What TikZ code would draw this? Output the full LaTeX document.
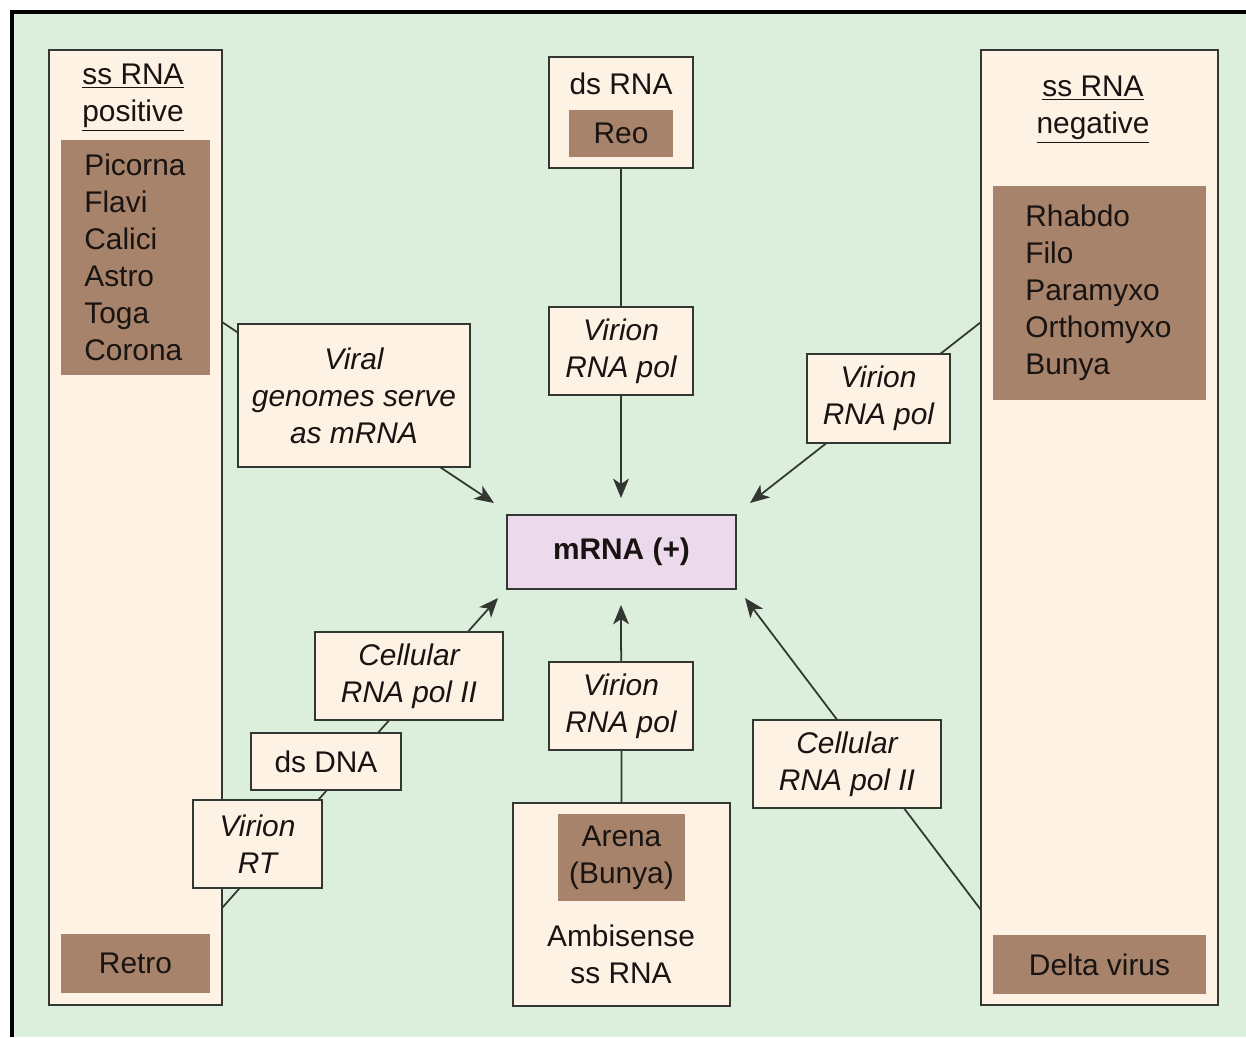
\documentclass[tikz,border=0pt]{standalone}
\usepackage{fontspec}
\setmainfont{Liberation Sans}
\usetikzlibrary{fit,arrows.meta}
\pgfdeclarelayer{back}
\pgfdeclarelayer{links}
\pgfsetlayers{back,links,main}
\definecolor{paper}{RGB}{220,238,220}
\definecolor{cream}{RGB}{253,242,228}
\definecolor{clay}{RGB}{166,131,106}
\definecolor{lilac}{RGB}{236,218,236}
\definecolor{edge}{RGB}{50,55,50}
\definecolor{ink}{RGB}{25,20,18}
\newcommand{\lblfont}{\fontsize{17}{21}\selectfont}

\begin{document}
\begin{tikzpicture}[x=0.02cm,y=-0.02cm,
  wh/.style 2 args={minimum width=#1*0.02cm,minimum height=#2*0.02cm},
  frame/.style={draw=edge,fill=cream,line width=1.1pt,inner sep=0pt,align=center,text=ink,font=\lblfont},
  stepbox/.style={frame,font=\lblfont\itshape},
  claybox/.style={fill=clay,inner sep=0pt,text=ink,font=\lblfont,align=center},
  plain/.style={inner sep=0pt,text=ink,font=\lblfont,align=center},
  link/.style={draw=edge,line width=1pt},
  arrowlink/.style={link,-{Stealth[length=11pt,width=9pt,inset=3pt]}}]

\useasboundingbox (0,0) rectangle (1246,1037);

% page ground and the black frame on top and left
\begin{pgfonlayer}{back}
  \fill[white] (0,0) rectangle (1246,1037);
  \fill[paper] (12,12) rectangle (1246,1037);
  \draw[black,line width=2.3pt,line join=miter] (12,1037) -- (12,12) -- (1246,12);
\end{pgfonlayer}

% ---- positive-strand column
\node[frame,fit={(49,50) (222,1005)}] (pos) {};
\node[plain] (posT) at (133,98) {\underline{ss RNA}\\\underline{positive}};
\node[claybox,fit={(61,140) (210,375)}] (posF) {};
\node[plain,anchor=west,align=left] (posL) at (84,257.5) {Picorna\\Flavi\\Calici\\Astro\\Toga\\Corona};
\node[claybox,wh={149}{59}] (retro) at (135.5,963.5) {Retro};

% ---- negative-strand column
\node[frame,fit={(981,50) (1218,1005)}] (neg) {};
\node[plain] (negT) at (1093,110) {\underline{ss RNA}\\\underline{negative}};
\node[claybox,fit={(993,186) (1206,400)}] (negF) {};
\node[plain,anchor=west,align=left] (negL) at (1025,293) {Rhabdo\\Filo\\Paramyxo\\Orthomyxo\\Bunya};
\node[claybox,wh={213}{59}] (delta) at (1099.5,964.5) {Delta virus};

% ---- double-stranded RNA
\node[frame,fit={(549,57) (693,168)}] (ds) {};
\node[plain] (dsT) at (621,84) {ds RNA};
\node[claybox,wh={104}{47}] (reo) at (621,133.5) {Reo};

% ---- ambisense
\node[frame,fit={(513,803) (730,1006)}] (amb) {};
\node[claybox,wh={127}{87}] (arena) at (621.5,857.5) {Arena\\(Bunya)};
\node[plain] (ambT) at (621,954) {Ambisense\\ss RNA};

% ---- central product
\node[frame,fill=lilac,font=\lblfont\bfseries,wh={229}{74}] (mrna) at (621.5,552) {mRNA (+)};

% ---- enzyme labels
\node[stepbox,wh={232}{143}] (vg)   at (354,395.5) {Viral\\genomes serve\\as mRNA};
\node[stepbox,wh={144}{88}]  (vpN)  at (621,351)   {Virion\\RNA pol};
\node[stepbox,wh={143}{89}]  (vpNE) at (878.5,398.5) {Virion\\RNA pol};
\node[stepbox,wh={188}{88}]  (cpSW) at (409,676)   {Cellular\\RNA pol II};
\node[frame,wh={150}{57}]    (dna)  at (326,761.5) {ds DNA};
\node[stepbox,wh={129}{88}]  (rt)   at (257.5,844) {Virion\\RT};
\node[stepbox,wh={144}{88}]  (vpS)  at (621,706)   {Virion\\RNA pol};
\node[stepbox,wh={188}{88}]  (cpSE) at (847,764)   {Cellular\\RNA pol II};

% ---- connector ends
\coordinate (pA) at (222,322);
\coordinate (pB) at (222,908);
\coordinate (nA) at (981,322);
\coordinate (nB) at (981,910);
\coordinate (tipNW) at (494,503);
\coordinate (tipN)  at (621,498);
\coordinate (tipNE) at (750,503);
\coordinate (tipSW) at (498,598);
\coordinate (tipS)  at (621,605);
\coordinate (tipSE) at (745,598);

% connectors run beneath the label boxes
\begin{pgfonlayer}{links}
  \draw[arrowlink] (pA) -- (tipNW);
  \draw[arrowlink] (ds.south) -- (tipN);
  \draw[arrowlink] (nA) -- (tipNE);
  \draw[arrowlink] (pB) -- (tipSW);
  \draw[arrowlink] (amb.north) -- (tipS);
  \draw[arrowlink] (nB) -- (tipSE);
\end{pgfonlayer}
\end{tikzpicture}
\end{document}
